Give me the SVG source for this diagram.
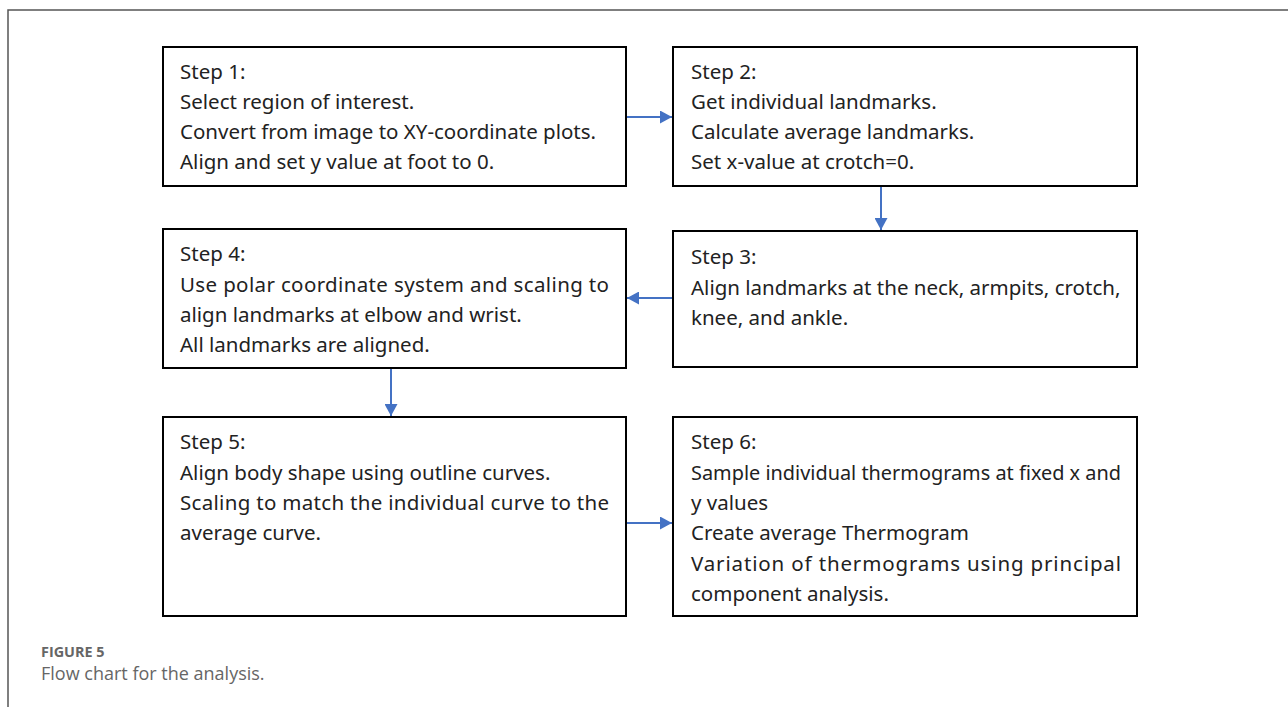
<svg xmlns="http://www.w3.org/2000/svg" width="1288" height="707" viewBox="0 0 1288 707">
<style>
.frame{fill:none;stroke:#555;stroke-width:1.5}
.box{fill:#fff;stroke:#000;stroke-width:2}
.t{font-family:"Noto Sans","Liberation Sans",sans-serif;font-size:20.5px;fill:#222}
.conn{stroke:#4472C4;stroke-width:2;fill:none}
.cap1{font-family:"Open Sans","Liberation Sans",sans-serif;font-size:14.4px;font-weight:bold;fill:#666}
.cap2{font-family:"Open Sans","Liberation Sans",sans-serif;font-size:18px;fill:#666}
</style>
<defs>
<marker id="ah" markerWidth="12" markerHeight="13" refX="12" refY="6.5" orient="auto" markerUnits="userSpaceOnUse">
<path d="M0,0 L12,6.5 L0,13 Z" fill="#4472C4"/>
</marker>
</defs>
<path class="frame" d="M8,707 L8,10 L1288,10"/>
<g id="connectors">
<line class="conn" x1="626" y1="117" x2="672" y2="117" marker-end="url(#ah)"/>
<line class="conn" x1="881" y1="186" x2="881" y2="230" marker-end="url(#ah)"/>
<line class="conn" x1="673" y1="298" x2="627" y2="298" marker-end="url(#ah)"/>
<line class="conn" x1="391" y1="368" x2="391" y2="416" marker-end="url(#ah)"/>
<line class="conn" x1="626" y1="523" x2="672" y2="523" marker-end="url(#ah)"/>
</g>
<g id="step1">
<rect class="box" x="163" y="47" width="463" height="139"/>
<text class="t" x="180" y="79">Step 1:</text>
<text class="t" x="180" y="109">Select region of interest.</text>
<text class="t" x="180" y="139">Convert from image to XY-coordinate plots.</text>
<text class="t" x="180" y="169">Align and set y value at foot to 0.</text>
</g>
<g id="step2">
<rect class="box" x="673" y="47" width="464" height="139"/>
<text class="t" x="691" y="79">Step 2:</text>
<text class="t" x="691" y="109">Get individual landmarks.</text>
<text class="t" x="691" y="139">Calculate average landmarks.</text>
<text class="t" x="691" y="169">Set x-value at crotch=0.</text>
</g>
<g id="step3">
<rect class="box" x="673" y="231" width="464" height="136"/>
<text class="t" x="691" y="264">Step 3:</text>
<text class="t" x="691" y="295">Align landmarks at the neck, armpits, crotch,</text>
<text class="t" x="691" y="325">knee, and ankle.</text>
</g>
<g id="step4">
<rect class="box" x="163" y="229" width="463" height="139"/>
<text class="t" x="180" y="261">Step 4:</text>
<text class="t" x="180" y="292" textLength="429" lengthAdjust="spacing">Use polar coordinate system and scaling to</text>
<text class="t" x="180" y="322">align landmarks at elbow and wrist.</text>
<text class="t" x="180" y="352">All landmarks are aligned.</text>
</g>
<g id="step5">
<rect class="box" x="163" y="417" width="463" height="199"/>
<text class="t" x="180" y="449">Step 5:</text>
<text class="t" x="180" y="480">Align body shape using outline curves.</text>
<text class="t" x="180" y="510" textLength="429" lengthAdjust="spacing">Scaling to match the individual curve to the</text>
<text class="t" x="180" y="540">average curve.</text>
</g>
<g id="step6">
<rect class="box" x="673" y="417" width="464" height="199"/>
<text class="t" x="691" y="449">Step 6:</text>
<text class="t" x="691" y="480" textLength="430" lengthAdjust="spacingAndGlyphs">Sample individual thermograms at fixed x and</text>
<text class="t" x="691" y="510">y values</text>
<text class="t" x="691" y="540">Create average Thermogram</text>
<text class="t" x="691" y="571" textLength="430" lengthAdjust="spacing">Variation of thermograms using principal</text>
<text class="t" x="691" y="601">component analysis.</text>
</g>
<text class="cap1" x="41" y="657">FIGURE 5</text>
<text class="cap2" x="41" y="680">Flow chart for the analysis.</text>
</svg>
